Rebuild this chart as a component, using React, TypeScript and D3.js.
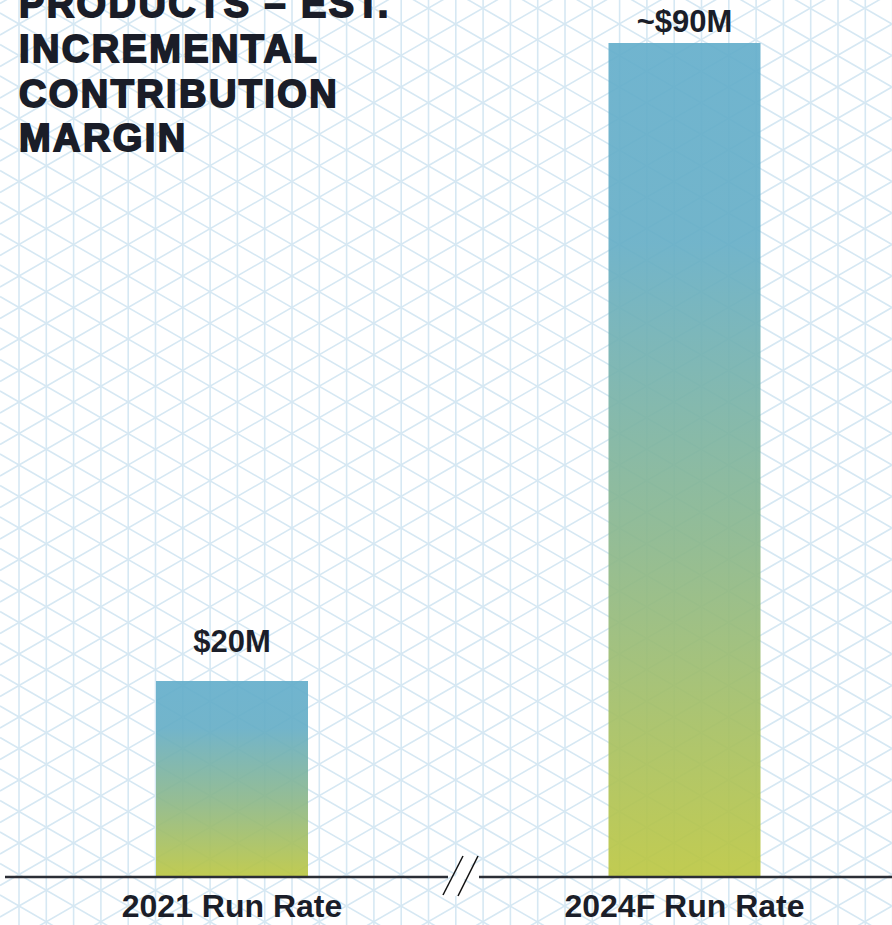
import { useEffect, useRef } from "react";
import * as d3 from "d3";

const categories = ["2021 Run Rate", "2024F Run Rate"];
const values = [20, 90];
const valueLabels = ["$20M", "~$90M"];
const titleLines = ["PRODUCTS – EST.", "INCREMENTAL", "CONTRIBUTION", "MARGIN"];

const W = 892;
const H = 925;

const App: React.FC = () => {
  const svgRef = useRef<SVGSVGElement | null>(null);

  useEffect(() => {
    if (!svgRef.current) return;
    const svg = d3.select(svgRef.current);
    svg.selectAll("*").remove();

    const baseY = 877;
    const barW = 152;

    const x = d3.scalePoint<string>().domain(categories).range([232, 684.5]);
    // broken value axis (the chart has a "//" break), so the scale is piecewise
    const y = d3.scaleLinear().domain([0, 20, 90]).range([baseY, 681, 43]);

    const defs = svg.append("defs");
    const grad = defs
      .append("linearGradient")
      .attr("id", "barGrad")
      .attr("x1", 0)
      .attr("y1", 0)
      .attr("x2", 0)
      .attr("y2", 1);
    grad.append("stop").attr("offset", "0%").attr("stop-color", "#64aecb");
    grad.append("stop").attr("offset", "24%").attr("stop-color", "#66aec6");
    grad.append("stop").attr("offset", "60%").attr("stop-color", "#8bb78c");
    grad.append("stop").attr("offset", "100%").attr("stop-color", "#bcc742");

    svg.append("rect").attr("width", W).attr("height", H).attr("fill", "#ffffff");

    // isometric background grid
    const grid = svg.append("g").attr("stroke", "#d6e8f3").attr("stroke-width", 1.6).attr("fill", "none");
    const sx = 27.3;
    const L = 31.5;
    const x0 = 19;
    const y0 = 24;
    const t = Math.tan(Math.PI / 6);
    d3.range(-1, 34).forEach((i) => {
      const xx = x0 + i * sx;
      grid.append("line").attr("x1", xx).attr("x2", xx).attr("y1", 0).attr("y2", H);
    });
    d3.range(-20, 50).forEach((k) => {
      const a = y0 + k * L;
      grid.append("line").attr("x1", 0).attr("y1", a - x0 * t).attr("x2", W).attr("y2", a + (W - x0) * t);
      grid.append("line").attr("x1", 0).attr("y1", a + x0 * t).attr("x2", W).attr("y2", a - (W - x0) * t);
    });

    // bars
    svg
      .selectAll(".bar")
      .data(values)
      .enter()
      .append("rect")
      .attr("class", "bar")
      .attr("x", (_, i) => (x(categories[i]) ?? 0) - barW / 2)
      .attr("y", (d) => y(d))
      .attr("width", barW)
      .attr("height", (d) => baseY - y(d))
      .attr("fill", "url(#barGrad)")
      .attr("opacity", 0.92);

    // value labels
    svg
      .selectAll(".val")
      .data(values)
      .enter()
      .append("text")
      .attr("x", (_, i) => x(categories[i]) ?? 0)
      .attr("y", (d) => Math.max(y(d) - 29, 32))
      .attr("text-anchor", "middle")
      .attr("font-family", "Liberation Sans, Arial, sans-serif")
      .attr("font-weight", "bold")
      .attr("font-size", 31)
      .attr("fill", "#1b1e29")
      .text((_, i) => valueLabels[i]);

    // baseline with break
    const axis = svg.append("g").attr("stroke", "#2b2e36").attr("stroke-width", 2.5);
    axis.append("line").attr("x1", 5).attr("x2", 448).attr("y1", baseY).attr("y2", baseY);
    axis.append("line").attr("x1", 479).attr("x2", W).attr("y1", baseY).attr("y2", baseY);
    svg
      .append("polygon")
      .attr("points", "446,895 466,855 476,855 456,896")
      .attr("fill", "#fff");
    const brk = svg.append("g").attr("stroke", "#111").attr("stroke-width", 1.5);
    brk.append("line").attr("x1", 443).attr("y1", 895).attr("x2", 463).attr("y2", 856);
    brk.append("line").attr("x1", 458).attr("y1", 896).attr("x2", 478).attr("y2", 856);

    // category labels
    svg
      .selectAll(".cat")
      .data(categories)
      .enter()
      .append("text")
      .attr("x", (d) => x(d) ?? 0)
      .attr("y", 917)
      .attr("text-anchor", "middle")
      .attr("font-family", "Liberation Sans, Arial, sans-serif")
      .attr("font-weight", "bold")
      .attr("font-size", 32)
      .attr("fill", "#1b1e29")
      .text((d) => d);

    // title (first line is cropped by the top edge, as in the source)
    svg
      .selectAll(".title")
      .data(titleLines)
      .enter()
      .append("text")
      .attr("x", 19)
      .attr("y", (_, i) => 17 + i * 44.8)
      .attr("font-family", "Liberation Sans, Arial, sans-serif")
      .attr("font-weight", "bold")
      .attr("font-size", 38)
      .attr("letter-spacing", 2.4)
      .attr("fill", "#1a1d28")
      .attr("stroke", "#1a1d28")
      .attr("stroke-width", 1.8)
      .text((d) => d);
  }, []);

  return (
    <svg
      ref={svgRef}
      width={W}
      height={H}
      style={{ position: "absolute", left: 0, top: 0 }}
    ></svg>
  );
};

export default App;
